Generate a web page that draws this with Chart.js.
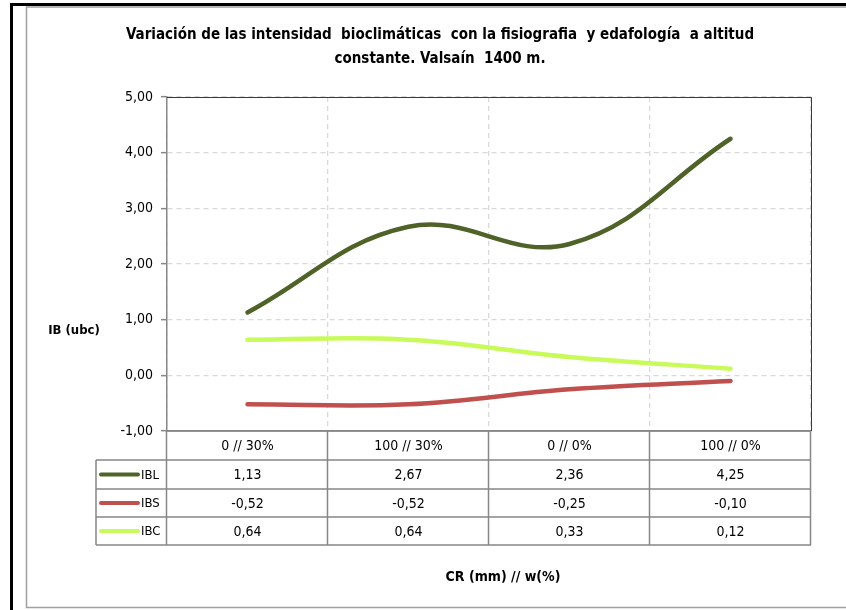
<!DOCTYPE html>
<html>
<head>
<meta charset="utf-8">
<script src="https://cdn.jsdelivr.net/npm/chart.js@4"></script>
<style>
html,body{margin:0;padding:0;background:#fff;}
#wrap{position:relative;width:846px;height:610px;}
canvas{display:block;}
</style>
</head>
<body>
<div id="wrap"><canvas id="c" width="846" height="610"></canvas></div>
<script>
const categories = ['0 // 30%', '100 // 30%', '0 // 0%', '100 // 0%'];
const seriesNames = ['IBL', 'IBS', 'IBC'];
const IBL = [1.13, 2.67, 2.36, 4.25];
const IBS = [-0.52, -0.52, -0.25, -0.10];
const IBC = [0.64, 0.64, 0.33, 0.12];
const yTickValues = [-1, 0, 1, 2, 3, 4, 5];
const titleLines = ['Variación de las intensidad  bioclimáticas  con la fisiografia  y edafología  a altitud', 'constante. Valsaín  1400 m.'];
const yTitle = 'IB (ubc)';
const xTitle = 'CR (mm) // w(%)';

const colors = ['#4F6228', '#C0504D', '#C8FA5A'];
const FONT = '"Liberation Sans Narrow", "DejaVu Sans Condensed", "Open Sans", sans-serif';
const fmt = v => v.toFixed(2).replace('.', ',');

const decor = {
  id: 'decor',
  beforeDraw(chart) {
    const ctx = chart.ctx;
    ctx.save();
    ctx.fillStyle = '#fff';
    ctx.fillRect(0, 0, 846, 610);
    ctx.strokeStyle = '#000';
    ctx.lineWidth = 3;
    ctx.beginPath();
    ctx.moveTo(11.5, 615); ctx.lineTo(11.5, 4.5); ctx.lineTo(850, 4.5);
    ctx.stroke();
    ctx.strokeStyle = '#A0A0A0';
    ctx.lineWidth = 1.5;
    ctx.beginPath();
    ctx.moveTo(850, 7); ctx.lineTo(26.5, 7); ctx.lineTo(26.5, 607.5); ctx.lineTo(850, 607.5);
    ctx.stroke();
    ctx.restore();
  },
  afterDraw(chart) {
    const ctx = chart.ctx;
    const ca = chart.chartArea;
    const xs = chart.scales.x;
    ctx.save();
    ctx.strokeStyle = '#3A3A3A';
    ctx.lineWidth = 1;
    ctx.beginPath();
    ctx.moveTo(ca.left, ca.top + 0.5); ctx.lineTo(ca.right + 0.5, ca.top + 0.5); ctx.lineTo(ca.right + 0.5, ca.bottom);
    ctx.stroke();

    ctx.fillStyle = '#000';
    ctx.textAlign = 'center';
    ctx.textBaseline = 'middle';
    ctx.font = 'bold 15px ' + FONT;
    ctx.fillText(titleLines[0], 440, 35);
    ctx.fillText(titleLines[1], 440, 59);

    ctx.font = 'bold 13px ' + FONT;
    ctx.fillText(yTitle, 74, 331);
    ctx.font = 'bold 14px ' + FONT;
    ctx.fillText(xTitle, 503, 577);

    const colW = (ca.right - ca.left) / categories.length;
    const rowTops = [ca.bottom, 460, 489, 517, 545];
    const legendLeft = 96;
    ctx.strokeStyle = '#878787';
    ctx.lineWidth = 1.5;
    ctx.beginPath();
    for (let i = 0; i <= categories.length; i++) {
      const x = Math.round(ca.left + i * colW) - 0.5;
      ctx.moveTo(x, rowTops[0]); ctx.lineTo(x, rowTops[4]);
    }
    ctx.moveTo(legendLeft, rowTops[1]); ctx.lineTo(legendLeft, rowTops[4]);
    ctx.moveTo(ca.left, rowTops[0]); ctx.lineTo(ca.right, rowTops[0]);
    for (let r = 1; r <= 4; r++) {
      ctx.moveTo(legendLeft, rowTops[r]); ctx.lineTo(ca.right, rowTops[r]);
    }
    ctx.stroke();

    ctx.font = '14px ' + FONT;
    ctx.fillStyle = '#000';
    ctx.textAlign = 'center';
    categories.forEach((c, i) => {
      ctx.fillText(c, xs.getPixelForValue(i), (rowTops[0] + rowTops[1]) / 2 + 1);
    });
    chart.data.datasets.forEach((ds, r) => {
      const yc = (rowTops[r + 1] + rowTops[r + 2]) / 2 + 1;
      ctx.font = '14px ' + FONT;
      ds.data.forEach((v, i) => {
        ctx.textAlign = 'center';
        ctx.fillText(fmt(v), xs.getPixelForValue(i), yc);
      });
      ctx.strokeStyle = ds.borderColor;
      ctx.lineWidth = 4;
      ctx.lineCap = 'round';
      ctx.beginPath();
      ctx.moveTo(101, yc - 1); ctx.lineTo(138, yc - 1);
      ctx.stroke();
      ctx.textAlign = 'left';
      ctx.fillStyle = '#000';
      ctx.font = '13px ' + FONT;
      ctx.fillText(ds.label, 141, yc);
    });
    ctx.restore();
  }
};

new Chart(document.getElementById('c'), {
  type: 'line',
  data: {
    labels: categories,
    datasets: [IBL, IBS, IBC].map((d, i) => ({
      label: seriesNames[i],
      data: d,
      borderColor: colors[i],
      backgroundColor: colors[i],
      borderWidth: 4.5,
      borderCapStyle: 'round',
      borderJoinStyle: 'round',
      pointRadius: 0,
      tension: 0.4,
      fill: false
    }))
  },
  options: {
    responsive: false,
    animation: false,
    devicePixelRatio: 1,
    layout: { padding: { left: 26, top: 97, right: 35, bottom: 179 } },
    plugins: { legend: { display: false }, title: { display: false }, tooltip: { enabled: false } },
    scales: {
      x: {
        type: 'category',
        offset: true,
        ticks: { display: false },
        grid: { offset: true, color: '#D9D9D9', drawTicks: false, lineWidth: 1.3 },
        border: { display: true, color: '#878787', width: 1.5, dash: [5, 4] },
        afterFit(s) { s.height = 0; }
      },
      y: {
        min: -1, max: 5,
        afterBuildTicks(s) { s.ticks = yTickValues.map(v => ({ value: v })); },
        afterFit(s) { s.width = 141; },
        ticks: {
          callback: v => fmt(v),
          color: '#000',
          font: { family: FONT, size: 14 },
          padding: 8
        },
        grid: { color: '#D9D9D9', lineWidth: 1.3, tickLength: 6, tickColor: '#878787', tickBorderDash: [], tickWidth: 1.5 },
        border: { display: true, color: '#878787', width: 1.5, dash: [5, 4] }
      }
    }
  },
  plugins: [decor]
});
</script>
</body>
</html>
